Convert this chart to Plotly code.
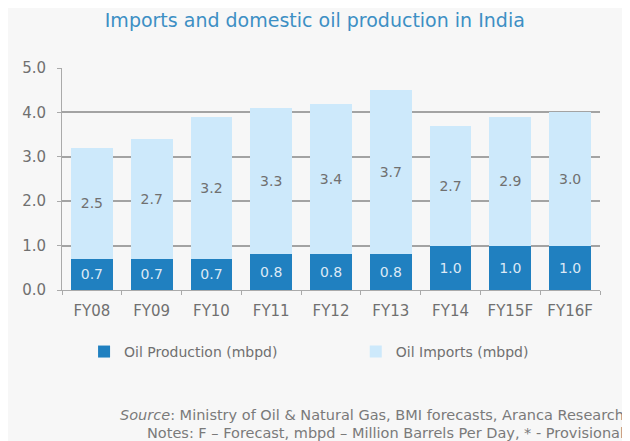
import plotly.graph_objects as go

categories = ["FY08", "FY09", "FY10", "FY11", "FY12", "FY13", "FY14", "FY15F", "FY16F"]
production = [0.7, 0.7, 0.7, 0.8, 0.8, 0.8, 1.0, 1.0, 1.0]
imports = [2.5, 2.7, 3.2, 3.3, 3.4, 3.7, 2.7, 2.9, 3.0]
y_ticks = [0.0, 1.0, 2.0, 3.0, 4.0, 5.0]

FONT = "DejaVu Sans, Arial, sans-serif"

fig = go.Figure()
fig.add_trace(go.Bar(
    x=categories, y=production, name="Oil Production (mbpd)",
    marker=dict(color="#2080c0", line=dict(width=0)),
    texttemplate="%{y:.1f}", textposition="inside", insidetextanchor="middle",
    textfont=dict(color="#dce9f5", size=14, family=FONT),
    legend="legend",
))
fig.add_trace(go.Bar(
    x=categories, y=imports, name="Oil Imports (mbpd)",
    marker=dict(color="#cde9fb", line=dict(width=0)),
    texttemplate="%{y:.1f}", textposition="inside", insidetextanchor="middle",
    textfont=dict(color="#707070", size=14, family=FONT),
    legend="legend2",
))

legend_style = dict(
    orientation="h", xanchor="left", y=-0.279, yanchor="middle",
    font=dict(size=14, color="#707070", family=FONT), bgcolor="rgba(0,0,0,0)",
    itemwidth=30,
)

fig.update_layout(
    barmode="stack",
    bargap=0.3,
    width=630, height=441,
    paper_bgcolor="#f7f7f7",
    plot_bgcolor="#f7f7f7",
    margin=dict(l=54, r=38, t=60, b=159),
    font=dict(family=FONT, color="#707070", size=14),
    title=dict(
        text="Imports and domestic oil production in India",
        x=0.487, xanchor="center", y=0.972, yanchor="middle",
        font=dict(size=19, color="#3d8fc4", family=FONT),
    ),
    showlegend=True,
    legend=dict(x=0.041, **legend_style),
    legend2=dict(x=0.546, **legend_style),
    uniformtext=dict(minsize=14, mode="show"),
)
fig.update_xaxes(
    type="category", showgrid=False, showline=True, linecolor="#aaaaaa", linewidth=1,
    ticks="outside", tickson="boundaries", ticklen=4, tickcolor="#aaaaaa",
    tickfont=dict(size=15, color="#707070", family=FONT), ticklabelstandoff=7,
)
fig.update_yaxes(
    range=[0, 5.0], tickvals=y_ticks, tickformat=".1f",
    showgrid=True, gridcolor="#a3a3a3", gridwidth=1.5,
    showline=True, linecolor="#aaaaaa", linewidth=1,
    ticks="outside", ticklen=4, tickcolor="#aaaaaa",
    tickfont=dict(size=15, color="#707070", family=FONT), zeroline=False,
    ticklabelstandoff=8,
)

fig.add_annotation(
    xref="paper", yref="paper", x=1.048, y=-0.563, xanchor="right", yanchor="middle",
    text="<i>Source</i>: Ministry of Oil & Natural Gas, BMI forecasts, Aranca Research",
    showarrow=False, font=dict(size=14.5, color="#7a7a7a", family=FONT),
)
fig.add_annotation(
    xref="paper", yref="paper", x=1.048, y=-0.644, xanchor="right", yanchor="middle",
    text="Notes: F – Forecast, mbpd – Million Barrels Per Day, * - Provisional",
    showarrow=False, font=dict(size=14.5, color="#7a7a7a", family=FONT),
)

fig.write_html("out.html")
